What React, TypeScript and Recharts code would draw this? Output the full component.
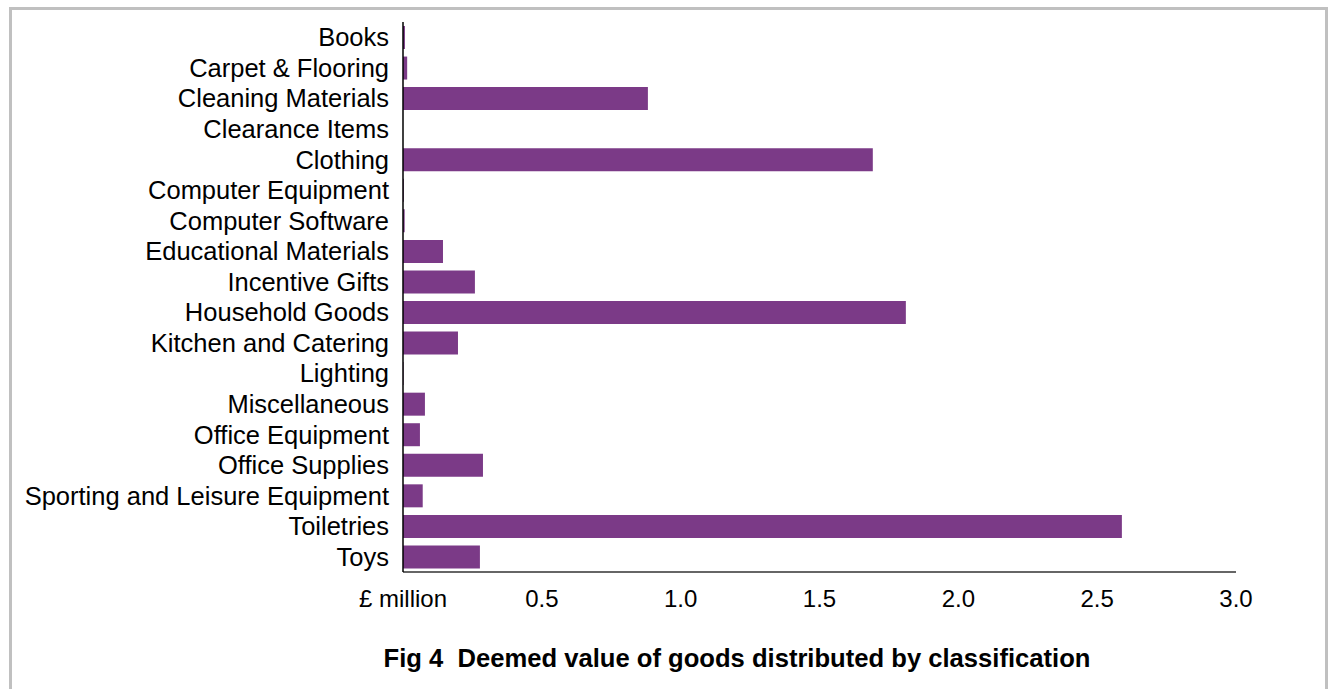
import { BarChart, Bar, XAxis, YAxis } from "recharts";

const categories = [
  "Books",
  "Carpet & Flooring",
  "Cleaning Materials",
  "Clearance Items",
  "Clothing",
  "Computer Equipment",
  "Computer Software",
  "Educational Materials",
  "Incentive Gifts",
  "Household Goods",
  "Kitchen and Catering",
  "Lighting",
  "Miscellaneous",
  "Office Equipment",
  "Office Supplies",
  "Sporting and Leisure Equipment",
  "Toiletries",
  "Toys",
];

// £ million
const values = [
  0.007, 0.015, 0.882, 0, 1.692, 0.003, 0.006, 0.144, 0.259, 1.811, 0.198,
  0.002, 0.079, 0.061, 0.288, 0.071, 2.589, 0.277,
];

const xTicks = [0, 0.5, 1.0, 1.5, 2.0, 2.5, 3.0];

const data = categories.map((name, i) => ({ name, value: values[i] }));

const FONT = "'Liberation Sans', Arial, sans-serif";

export default function App() {
  return (
    <div
      style={{
        position: "absolute",
        left: 0,
        top: 0,
        width: 1333,
        height: 689,
        overflow: "hidden",
        background: "#fff",
        fontFamily: FONT,
      }}>
      {/* outer frame */}
      <div
        style={{
          position: "absolute",
          left: 9,
          top: 7,
          width: 1313,
          height: 720,
          border: "3px solid #c0c0c0",
        }}
      />

      <div style={{ position: "absolute", left: 0, top: 0 }}>
        <BarChart
          width={1333}
          height={689}
          layout="vertical"
          data={data}
          barSize={23}
          margin={{ top: 22, right: 97, left: 0, bottom: 67 }}>
          <XAxis
            type="number"
            domain={[0, 3]}
            ticks={xTicks}
            height={50}
            tickLine={false}
            tickSize={0}
            tickMargin={18}
            axisLine={{ stroke: "#333", strokeWidth: 1.5 }}
            tick={{ fill: "#000", fontSize: 24, fontFamily: FONT }}
            tickFormatter={(v: number) => (v === 0 ? "£ million" : v.toFixed(1))}
          />
          <YAxis
            type="category"
            dataKey="name"
            width={403}
            interval={0}
            tickLine={false}
            tickSize={0}
            tickMargin={14}
            axisLine={{ stroke: "#000", strokeWidth: 1.5 }}
            tick={{ fill: "#000", fontSize: 25.5, fontFamily: FONT }}
          />
          <Bar dataKey="value" fill="#7b3a87" isAnimationActive={false} />
        </BarChart>
      </div>

      {/* caption */}
      <div
        style={{
          position: "absolute",
          left: 237,
          width: 1000,
          textAlign: "center",
          top: 644,
          fontSize: 25.6,
          fontWeight: "bold",
          whiteSpace: "pre",
          color: "#000",
        }}>
        {"Fig 4  Deemed value of goods distributed by classification"}
      </div>
    </div>
  );
}
